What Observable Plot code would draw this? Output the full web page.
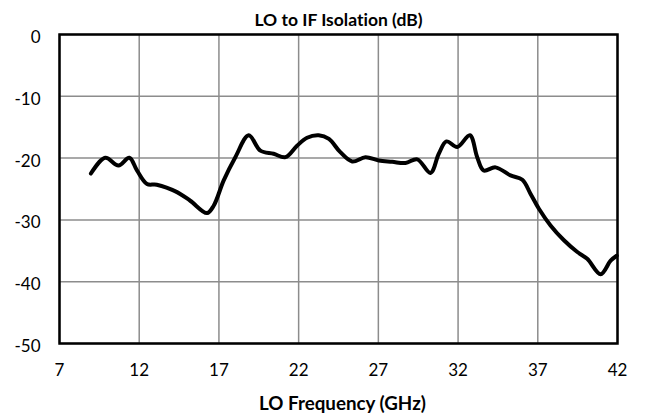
<!DOCTYPE html>
<html>
<head>
<meta charset="utf-8">
<script src="https://cdn.jsdelivr.net/npm/d3@7"></script>
<script src="https://cdn.jsdelivr.net/npm/@observablehq/plot@0.6"></script>
<style>
  html, body { margin: 0; padding: 0; background: #fff; }
  svg text { font-variant-ligatures: none; font-feature-settings: "liga" 0; }
</style>
</head>
<body>
<div id="chart"></div>
<script>
const title = "LO to IF Isolation (dB)";
const xLabel = "LO Frequency (GHz)";
const xTicks = [7, 12, 17, 22, 27, 32, 37, 42];
const yTicks = [0, -10, -20, -30, -40, -50];

const freq = [8.97, 9.87, 10.7, 11.38, 11.86, 12.49, 13.1, 14.37, 15.2, 16.25, 16.67, 17.3, 18.03, 18.87, 19.6, 20.43, 21.17, 21.9, 22.53, 23.26, 23.9, 24.6, 25.36, 26.19, 27.03, 27.87, 28.7, 29.44, 30.27, 30.79, 31.27, 31.95, 32.74, 33.2, 33.6, 34.35, 35.29, 36.03, 36.55, 37.07, 37.8, 38.64, 39.48, 40.1, 40.94, 41.57, 41.95];
const isolation = [-22.5, -19.95, -21.2, -19.95, -22.0, -24.2, -24.3, -25.5, -26.9, -28.9, -27.7, -23.6, -19.85, -16.3, -18.8, -19.3, -19.85, -18.0, -16.7, -16.3, -16.9, -19.0, -20.55, -19.85, -20.4, -20.6, -20.8, -20.2, -22.4, -19.3, -17.3, -18.2, -16.3, -19.85, -22.0, -21.5, -22.8, -23.5, -25.8, -28.2, -30.9, -33.3, -35.2, -36.3, -38.8, -36.6, -35.8];

const data = freq.map((f, i) => ({f, v: isolation[i]}));
const font = "Lato, 'Open Sans', sans-serif";

const chart = Plot.plot({
  width: 645,
  height: 418,
  marginLeft: 59,
  marginRight: 28,
  marginTop: 34,
  marginBottom: 75,
  style: {fontFamily: font, fontSize: "17px", color: "#000", background: "#fff"},
  x: {domain: [7, 42], ticks: xTicks, label: null},
  y: {domain: [-50, 0], ticks: yTicks, label: null},
  marks: [
    Plot.gridX(xTicks, {stroke: "#8c8c8c", strokeOpacity: 1, strokeWidth: 1.5}),
    Plot.gridY(yTicks, {stroke: "#8c8c8c", strokeOpacity: 1, strokeWidth: 1.5}),
    Plot.axisX(xTicks, {tickSize: 0, tickPadding: 20, fontSize: 17, label: null, tickFormat: d => String(d)}),
    Plot.axisY(yTicks, {tickSize: 0, tickPadding: 19, fontSize: 17, label: null, dy: 3, tickFormat: d => String(d)}),
    Plot.frame({stroke: "#000", strokeWidth: 2.5}),
    Plot.line(data, {x: "f", y: "v", stroke: "#000", strokeWidth: 4, curve: "catmull-rom"}),
    Plot.text([title], {frameAnchor: "top", dy: -21, text: d => d, fontWeight: "bold", fontSize: 17.5}),
    Plot.text([xLabel], {frameAnchor: "bottom", dy: 66, dx: 4, text: d => d, fontWeight: "bold", fontSize: 18.75})
  ]
});
document.getElementById("chart").append(chart);
</script>
</body>
</html>
